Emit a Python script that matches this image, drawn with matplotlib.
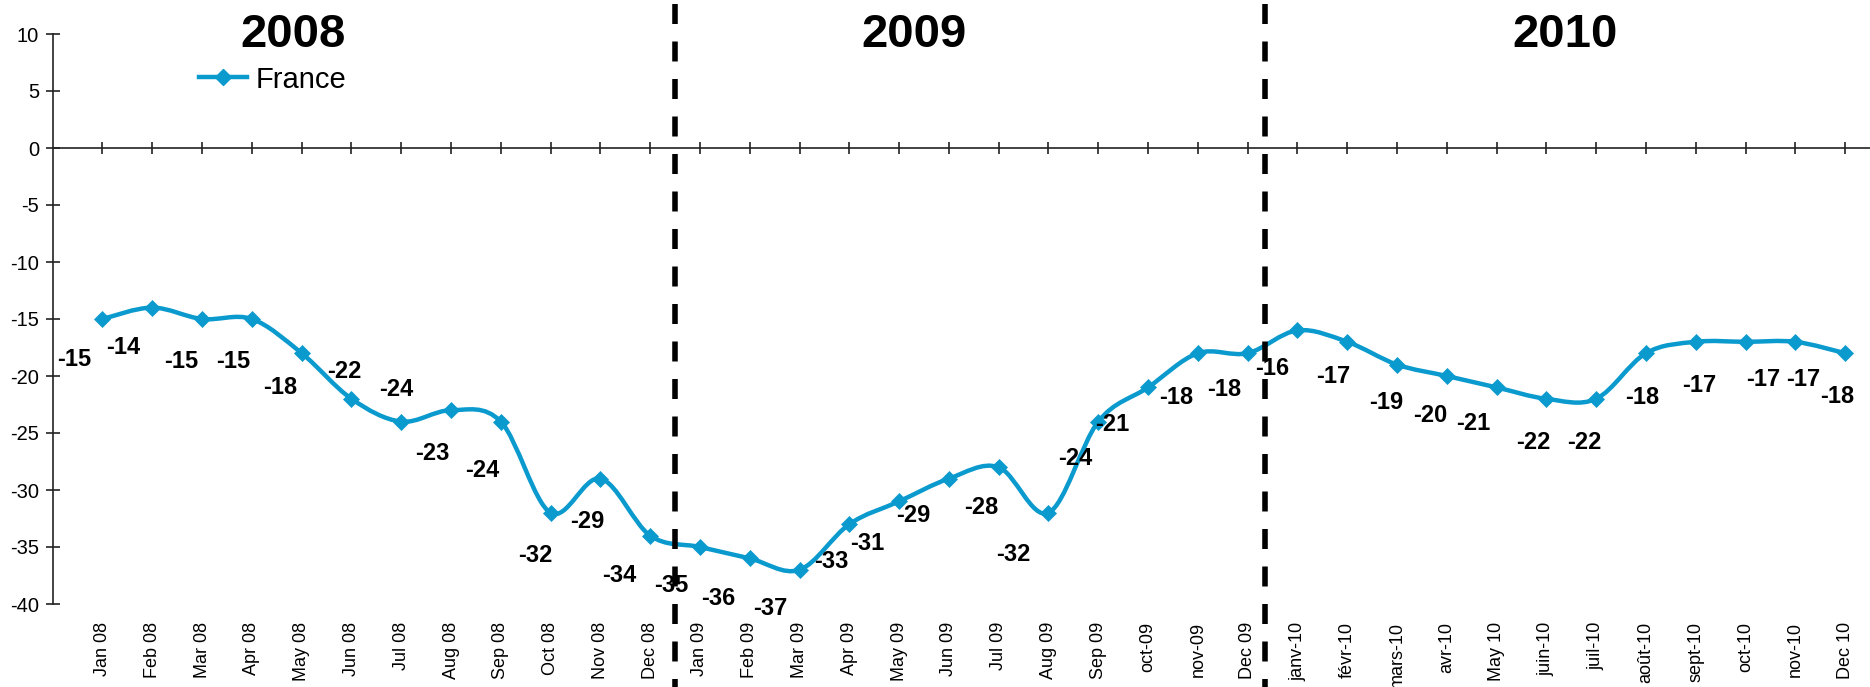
import matplotlib
matplotlib.use("Agg")
import matplotlib.pyplot as plt
import matplotlib.transforms as mtransforms
from matplotlib.path import Path
from matplotlib.patches import PathPatch
import numpy as np

plt.rcParams['font.family'] = ['Liberation Sans', 'DejaVu Sans']
plt.rcParams['axes.unicode_minus'] = False

# ---- data -------------------------------------------------------------
months = ["Jan 08", "Feb 08", "Mar 08", "Apr 08", "May 08", "Jun 08",
          "Jul 08", "Aug 08", "Sep 08", "Oct 08", "Nov 08", "Dec 08",
          "Jan 09", "Feb 09", "Mar 09", "Apr 09", "May 09", "Jun 09",
          "Jul 09", "Aug 09", "Sep 09", "oct-09", "nov-09", "Dec 09",
          "janv-10", "févr-10", "mars-10", "avr-10", "May 10", "juin-10",
          "juil-10", "août-10", "sept-10", "oct-10", "nov-10", "Dec 10"]
france = [-15, -14, -15, -15, -18, -22, -24, -23, -24, -32, -29, -34,
          -35, -36, -37, -33, -31, -29, -28, -32, -24, -21, -18, -18,
          -16, -17, -19, -20, -21, -22, -22, -18, -17, -17, -17, -18]
series_name = "France"
years = ["2008", "2009", "2010"]

# ---- layout -----------------------------------------------------------
year_x = [3.82, 16.3, 29.37]          # centre of each year heading (category units)
dividers = [11.5, 23.35]              # year separators (category units)
# data-label offsets from each marker, in pixels (dx, dy downwards)
label_off = [(-28, 38), (-29, 38), (-21, 40), (-19, 40), (-21, 32), (-7, -29),
             (-5, -34), (-19, 41), (-19, 47), (-15, 41), (-13, 41), (-31, 38),
             (-29, 37), (-31, 38), (-29, 37), (-18, 35), (-32, 40), (-36, 35),
             (-17, 38), (-35, 40), (-23, 35), (-36, 35), (-22, 42), (-23, 34),
             (-25, 36), (-14, 33), (-11, 36), (-17, 38), (-23, 34), (-13, 42),
             (-12, 42), (-4, 42), (3, 42), (18, 36), (8, 36), (-8, 41)]

LINE_COLOR = "#0A9ACD"
W, H = 1870, 687

fig = plt.figure(figsize=(W / 100, H / 100), dpi=100)
left_px, top_px, bottom_px = 52.7, 34, 604
ax = fig.add_axes([left_px / W, 1 - bottom_px / H, 1 - left_px / W,
                   (bottom_px - top_px) / H])

x = np.arange(len(france), dtype=float)
y = np.array(france, dtype=float)

# smoothed line (cubic Bezier segments through every point)
pts = np.column_stack([x, y])
verts = [pts[0]]
codes = [Path.MOVETO]
n = len(pts)
for i in range(n - 1):
    p_prev = pts[i - 1] if i > 0 else pts[i]
    p_next2 = pts[i + 2] if i + 2 < n else pts[i + 1]
    c1 = pts[i] + (pts[i + 1] - p_prev) / 6.0
    c2 = pts[i + 1] - (p_next2 - pts[i]) / 6.0
    verts += [c1, c2, pts[i + 1]]
    codes += [Path.CURVE4] * 3
ax.add_patch(PathPatch(Path(verts, codes), fill=False, edgecolor=LINE_COLOR,
                       lw=3.2, capstyle='round', joinstyle='round',
                       transform=ax.transData, zorder=3))
ax.plot(x, y, ls='none', marker='D', ms=8.6, color=LINE_COLOR,
        mec=LINE_COLOR, mew=0.5, zorder=4)

# legend proxy
ax.plot([], [], color=LINE_COLOR, lw=3.2, marker='D', ms=8.6, label=series_name)
ax.legend(loc='center left', bbox_to_anchor=(198.7 / W, 1 - 79.5 / H),
          bbox_transform=fig.transFigure, frameon=False, borderpad=0,
          borderaxespad=0, handlelength=1.65, handletextpad=0.3,
          prop={'size': 21})

# data labels
for xi, yi, (dx, dy) in zip(x, y, label_off):
    ax.annotate(f"{int(yi)}", xy=(xi, yi), xytext=(dx, -dy - 8.5),
                textcoords='offset pixels', ha='center', va='baseline',
                fontsize=17, fontweight='bold', color='black', zorder=6)

# axes styling
ax.set_xlim(-1, 35.5)
ax.set_ylim(-40, 10)
ax.set_yticks(np.arange(-40, 11, 5))
ax.set_xticks(x)
ax.tick_params(axis='x', labelbottom=False, direction='inout', length=8.6,
               width=1.2, color='#222222')
ax.tick_params(axis='y', direction='inout', length=9.4, width=1.2,
               labelsize=14.5, pad=5.0, color='#222222')
ax.spines['top'].set_visible(False)
ax.spines['right'].set_visible(False)
ax.spines['bottom'].set_position(('data', 0))
for s in ('left', 'bottom'):
    ax.spines[s].set_linewidth(1.2)
    ax.spines[s].set_color('#222222')

# month labels along the bottom edge
sec = ax.secondary_xaxis(0.0)
sec.set_xticks(x, labels=months)
sec.tick_params(length=0, pad=12.7, labelrotation=90, labelsize=13)
sec.spines['bottom'].set_visible(False)

# year separators running the full height of the figure
blend = mtransforms.blended_transform_factory(ax.transData, ax.transAxes)
for d in dividers:
    ax.plot([d, d], [1.053, -0.15], transform=blend, clip_on=False,
            color='black', lw=4, linestyle=(0, (3.6, 3.15)), zorder=5)

# year headings
for yr, xc in zip(years, year_x):
    ax.text(xc, 8.886, yr, ha='center', va='baseline', fontsize=34,
            fontweight='bold', color='black', clip_on=False)

fig.savefig("out.png", dpi=100)
